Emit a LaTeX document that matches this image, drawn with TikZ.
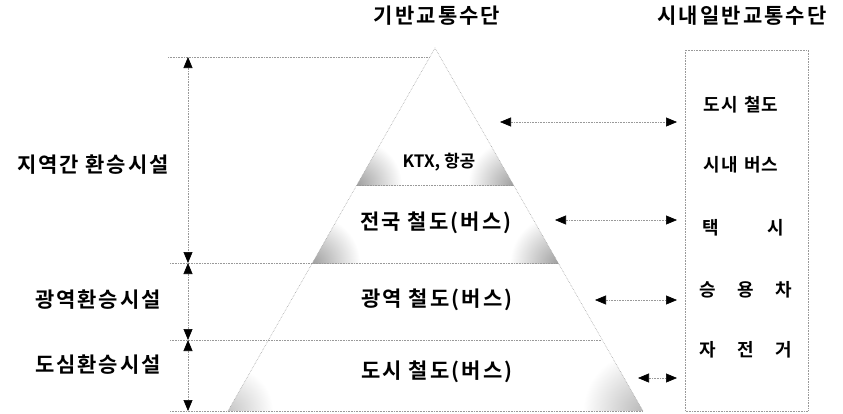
\documentclass[tikz,border=0pt]{standalone}
\usepackage{fontspec}
\newfontfamily\kr{Noto Sans CJK KR}[BoldFont={* Bold}]
\usetikzlibrary{arrows.meta}
\tikzset{
  guide/.style={densely dotted, gray!80, line width=0.6pt},
  edge/.style={densely dotted, gray!70, line width=0.6pt},
  tipb/.tip={Triangle[length=11pt,width=9pt,color=black]},
  dbl/.style={densely dotted, gray!80, line width=0.6pt, tipb-tipb},
  title/.style={font=\kr\bfseries\addfontfeatures{LetterSpace=10}\fontsize{21}{24}\selectfont, inner sep=0pt},
  side/.style={font=\kr\bfseries\addfontfeatures{LetterSpace=9}\fontsize{21}{24}\selectfont, inner sep=0pt},
  tier/.style={font=\kr\bfseries\addfontfeatures{LetterSpace=10}\fontsize{21}{24}\selectfont, inner sep=0pt},
  ktx/.style={font=\kr\bfseries\fontsize{17}{20}\selectfont, inner sep=0pt},
  item/.style={font=\kr\bfseries\addfontfeatures{LetterSpace=6}\fontsize{18}{22}\selectfont, inner sep=0pt},
  shadow/.style={inner color=gray!75, outer color=white}
}
\begin{document}
\begin{tikzpicture}[x=1pt,y=-1pt]
\useasboundingbox (0,0) rectangle (843,413);
% pyramid corners
\coordinate (A) at (435,48);
\coordinate (BL) at (228,411);
\coordinate (BR) at (643,411);
% shading
\begin{scope}
  \clip (A) -- (BL) -- (BR) -- cycle;
  \begin{scope}
    \clip (0,48) rectangle (843,185);
    \shade[shadow] (357,185) circle (45);
    \shade[shadow] (513,185) circle (45);
  \end{scope}
  \begin{scope}
    \clip (0,185) rectangle (843,263);
    \shade[shadow] (312,263) circle (48);
    \shade[shadow] (558,263) circle (48);
  \end{scope}
  \begin{scope}
    \clip (0,340) rectangle (843,411);
    \shade[inner color=gray!45, outer color=white] (228,411) circle (45);
    \shade[inner color=gray!55, outer color=white] (643,411) circle (60);
  \end{scope}
\end{scope}
% tier lines
\coordinate (L0a) at (168,57);  \coordinate (L0b) at (430,57);
\coordinate (L1a) at (357,185); \coordinate (L1b) at (513,185);
\coordinate (L2a) at (170,263); \coordinate (L2b) at (558,263);
\coordinate (L3a) at (170,340); \coordinate (L3b) at (601,340);
\coordinate (L4a) at (170,411); \coordinate (L4b) at (BR);
\draw[guide] (L0a) -- (L0b);
\draw[guide] (L1a) -- (L1b);
\draw[guide] (L2a) -- (L2b);
\draw[guide] (L3a) -- (L3b);
\draw[guide] (L4a) -- (L4b);
% pyramid edges
\draw[edge] (BL) -- (A) -- (BR);
% left level arrows
\coordinate (V0) at (188,57);
\coordinate (V1) at (188,263);
\coordinate (V2) at (188,340);
\coordinate (V3) at (188,411);
\draw[dbl] (V0) -- (V1);
\draw[dbl] (V1) -- (V2);
\draw[dbl] (V2) -- (V3);
% titles
\node[title] (t1) at (437,16) {기반교통수단};
\node[title] (t2) at (742,16) {시내일반교통수단};
% left labels
\node[side] (s1) at (93,165) {지역간 환승시설};
\node[side] (s2) at (98,300) {광역환승시설};
\node[side] (s3) at (98,365) {도심환승시설};
% pyramid labels
\node[ktx] (k1) at (439,162) {KTX, 항공};
\node[tier] (k2) at (436,223) {전국 철도(버스)};
\node[tier] (k3) at (437,300) {광역 철도(버스)};
\node[tier] (k4) at (437,372) {도시 철도(버스)};
% right box
\draw[guide] (685,50) rectangle (808,411);
\node[item] (r1) at (741,105) {도시\hspace{6pt}철도};
\node[item] (r2) at (741,165) {시내\hspace{6pt}버스};
\node[item] (r3) at (743,228) {\makebox[82pt][s]{택\hfill 시}};
\node[item] (r4) at (746,290) {\makebox[93pt][s]{승\hfill 용\hfill 차}};
\node[item] (r5) at (746,350) {\makebox[93pt][s]{자\hfill 전\hfill 거}};
% horizontal arrows
\coordinate (h1a) at (500,122); \coordinate (h1b) at (677,122);
\coordinate (h2a) at (555,220); \coordinate (h2b) at (677,220);
\coordinate (h3a) at (595,300); \coordinate (h3b) at (677,300);
\coordinate (h4a) at (638,378); \coordinate (h4b) at (677,378);
\draw[dbl] (h1a) -- (h1b);
\draw[dbl] (h2a) -- (h2b);
\draw[dbl] (h3a) -- (h3b);
\draw[dbl] (h4a) -- (h4b);
\end{tikzpicture}
\end{document}
